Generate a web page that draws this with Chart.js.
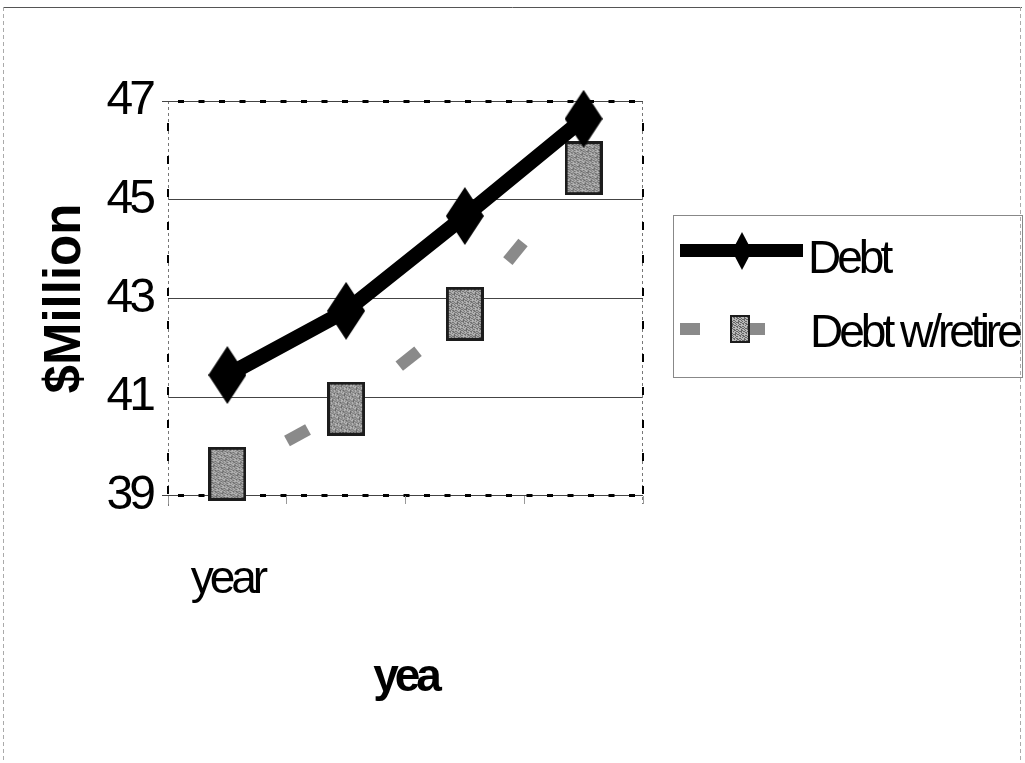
<!DOCTYPE html>
<html>
<head>
<meta charset="utf-8">
<script src="https://cdn.jsdelivr.net/npm/chart.js@4.4.0/dist/chart.umd.min.js"></script>
<style>
  html, body { margin: 0; padding: 0; background: #fff; }
  #wrap { position: relative; width: 1025px; height: 763px; }
</style>
</head>
<body>
<div id="wrap"><canvas id="debtChart"></canvas></div>
<script>
const categories = ["year", "", "", ""];
const debt = [41.45, 42.75, 44.67, 46.64];
const debtRetire = [39.45, 40.77, 42.69, 45.64];
const yTicks = [39, 41, 43, 45, 47];

const font = "'Liberation Sans', Arial, sans-serif";
const tight = "-4px"; // the original text is squeezed together

// tall black diamond marker
function diamondMarker(w, h) {
  const c = document.createElement("canvas");
  c.width = w; c.height = h;
  const g = c.getContext("2d");
  g.fillStyle = "#000";
  g.beginPath();
  g.moveTo(w / 2, 0);
  g.lineTo(w, h / 2);
  g.lineTo(w / 2, h);
  g.lineTo(0, h / 2);
  g.closePath();
  g.fill();
  return c;
}

// grey speckled box marker
function boxMarker(w, h, border) {
  const c = document.createElement("canvas");
  c.width = w; c.height = h;
  const g = c.getContext("2d");
  g.fillStyle = "#1c1c1c";
  g.fillRect(0, 0, w, h);
  g.fillStyle = "#b8b8b8";
  g.fillRect(border, border, w - 2 * border, h - 2 * border);
  g.fillStyle = "#666";
  for (let y = border; y < h - border; y++) {
    for (let x = border; x < w - border; x++) {
      if ((x * 5 + y * 3 + (x * y) % 3) % 7 < 3) g.fillRect(x, y, 1, 1);
    }
  }
  return c;
}

const bigDiamond = diamondMarker(38, 58);
const bigBox = boxMarker(38, 54, 3);

const frame = {
  id: "frame",
  beforeDraw(chart) {
    chart.ctx.letterSpacing = "0px";
  },
  beforeDatasetsDraw(chart) {
    const { ctx, chartArea: a } = chart;
    ctx.save();
    // thin base lines of the plot border
    ctx.strokeStyle = "#777";
    ctx.lineWidth = 1;
    ctx.setLineDash([3, 3]);
    ctx.beginPath();
    ctx.moveTo(a.left + 0.5, a.top); ctx.lineTo(a.left + 0.5, a.bottom + 12);
    ctx.moveTo(a.right - 0.5, a.top); ctx.lineTo(a.right - 0.5, a.bottom + 8);
    ctx.stroke();
    ctx.setLineDash([]);
    ctx.strokeStyle = "#444";
    ctx.beginPath();
    ctx.moveTo(a.left - 6, a.top + 0.5); ctx.lineTo(a.right, a.top + 0.5);
    ctx.moveTo(a.left - 6, a.bottom - 0.5); ctx.lineTo(a.right, a.bottom - 0.5);
    ctx.stroke();
    // heavy dots along top and bottom
    ctx.fillStyle = "#000";
    for (let x = a.left + 10; x < a.right - 4; x += 20.5) {
      ctx.fillRect(x, a.top - 1, 6, 3);
      ctx.fillRect(x, a.bottom - 2, 6, 3);
    }
    // dotted clusters on the sides
    for (let y = a.top + 22; y < a.bottom - 8; y += 33) {
      ctx.fillRect(a.left - 1, y, 2, 8);
      ctx.fillRect(a.right - 1, y, 2, 8);
    }
    ctx.restore();
  },
  afterDatasetsDraw(chart) {
    // tick labels and the x title are drawn after this, squeezed
    chart.ctx.letterSpacing = tight;
  },
  afterDraw(chart) {
    const { ctx } = chart;
    ctx.save();
    ctx.letterSpacing = "0px";
    // outer frame
    ctx.strokeStyle = "#555";
    ctx.lineWidth = 1;
    ctx.beginPath();
    ctx.moveTo(3, 7.5); ctx.lineTo(1022, 7.5);
    ctx.stroke();
    ctx.strokeStyle = "#aaa";
    ctx.setLineDash([4, 3]);
    ctx.beginPath();
    ctx.moveTo(3.5, 7); ctx.lineTo(3.5, 763);
    ctx.moveTo(1020.5, 7); ctx.lineTo(1020.5, 763);
    ctx.stroke();
    ctx.setLineDash([]);

    // legend box
    ctx.strokeStyle = "#888";
    ctx.strokeRect(673.5, 215.5, 349, 162);

    // Debt entry
    ctx.fillStyle = "#000";
    ctx.fillRect(680, 244, 123, 13);
    ctx.drawImage(diamondMarker(20, 38), 732, 232);
    // Debt w/retire entry
    ctx.fillStyle = "#8a8a8a";
    ctx.fillRect(680, 323, 20, 12);
    ctx.fillRect(750, 323, 15, 12);
    ctx.drawImage(boxMarker(20, 28, 2), 730, 315);

    ctx.fillStyle = "#000";
    ctx.font = "46px " + font;
    ctx.letterSpacing = tight;
    ctx.textBaseline = "alphabetic";
    ctx.textAlign = "left";
    ctx.fillText(chart.data.datasets[0].label, 808, 273);
    ctx.fillText(chart.data.datasets[1].label, 810, 347);
    ctx.restore();
    ctx.letterSpacing = "0px";
  }
};

new Chart(document.getElementById("debtChart"), {
  type: "line",
  data: {
    labels: categories,
    datasets: [
      {
        label: "Debt",
        data: debt,
        borderColor: "#000",
        backgroundColor: "#000",
        borderWidth: 15,
        pointStyle: bigDiamond,
        tension: 0,
        clip: false,
      },
      {
        label: "Debt w/retire",
        data: debtRetire,
        borderColor: "#8a8a8a",
        backgroundColor: "#8a8a8a",
        borderWidth: 12,
        borderDash: [24, 116],
        borderCapStyle: "butt",
        pointStyle: bigBox,
        tension: 0,
        clip: false,
        // restart the dash at every point, one dash mid-way
        segment: {
          borderDashOffset: (ctx) => 72 + ctx.p0DataIndex * 0.001,
        },
      },
    ],
  },
  options: {
    responsive: true,
    maintainAspectRatio: false,
    animation: false,
    events: [],
    layout: {
      padding: { left: 0, right: 382, top: 101, bottom: 0 },
    },
    plugins: {
      legend: { display: false },
      tooltip: { enabled: false },
    },
    scales: {
      y: {
        min: 39,
        max: 47,
        afterFit: (scale) => { scale.width = 168; },
        afterBuildTicks: (scale) => {
          scale.ticks = yTicks.map((v) => ({ value: v }));
        },
        border: { display: false, z: 1 },
        grid: {
          z: 0,
          drawTicks: false,
          lineWidth: 1,
          color: (c) => (c.tick.value === 39 || c.tick.value === 47 ? "rgba(0,0,0,0)" : "#444"),
        },
        ticks: {
          z: 1,
          padding: 16,
          color: "#000",
          font: { family: font, size: 48 },
        },
        title: {
          display: true,
          text: "$Million",
          color: "#000",
          padding: { top: 35, bottom: 0 },
          font: { family: font, size: 51, weight: "bold" },
        },
      },
      x: {
        offset: true,
        afterFit: (scale) => { scale.height = 267; },
        border: { display: false, z: 1 },
        grid: {
          z: 1,
          offset: true,
          drawOnChartArea: false,
          drawTicks: true,
          tickLength: 8,
          color: "#999",
        },
        ticks: {
          z: 1,
          padding: 49,
          color: "#000",
          maxRotation: 0,
          autoSkip: false,
          font: { family: font, size: 46 },
        },
        title: {
          display: true,
          text: "yea",
          color: "#000",
          padding: { top: 0, bottom: 57 },
          font: { family: font, size: 46, weight: "bold" },
        },
      },
    },
  },
  plugins: [frame],
});
</script>
</body>
</html>
